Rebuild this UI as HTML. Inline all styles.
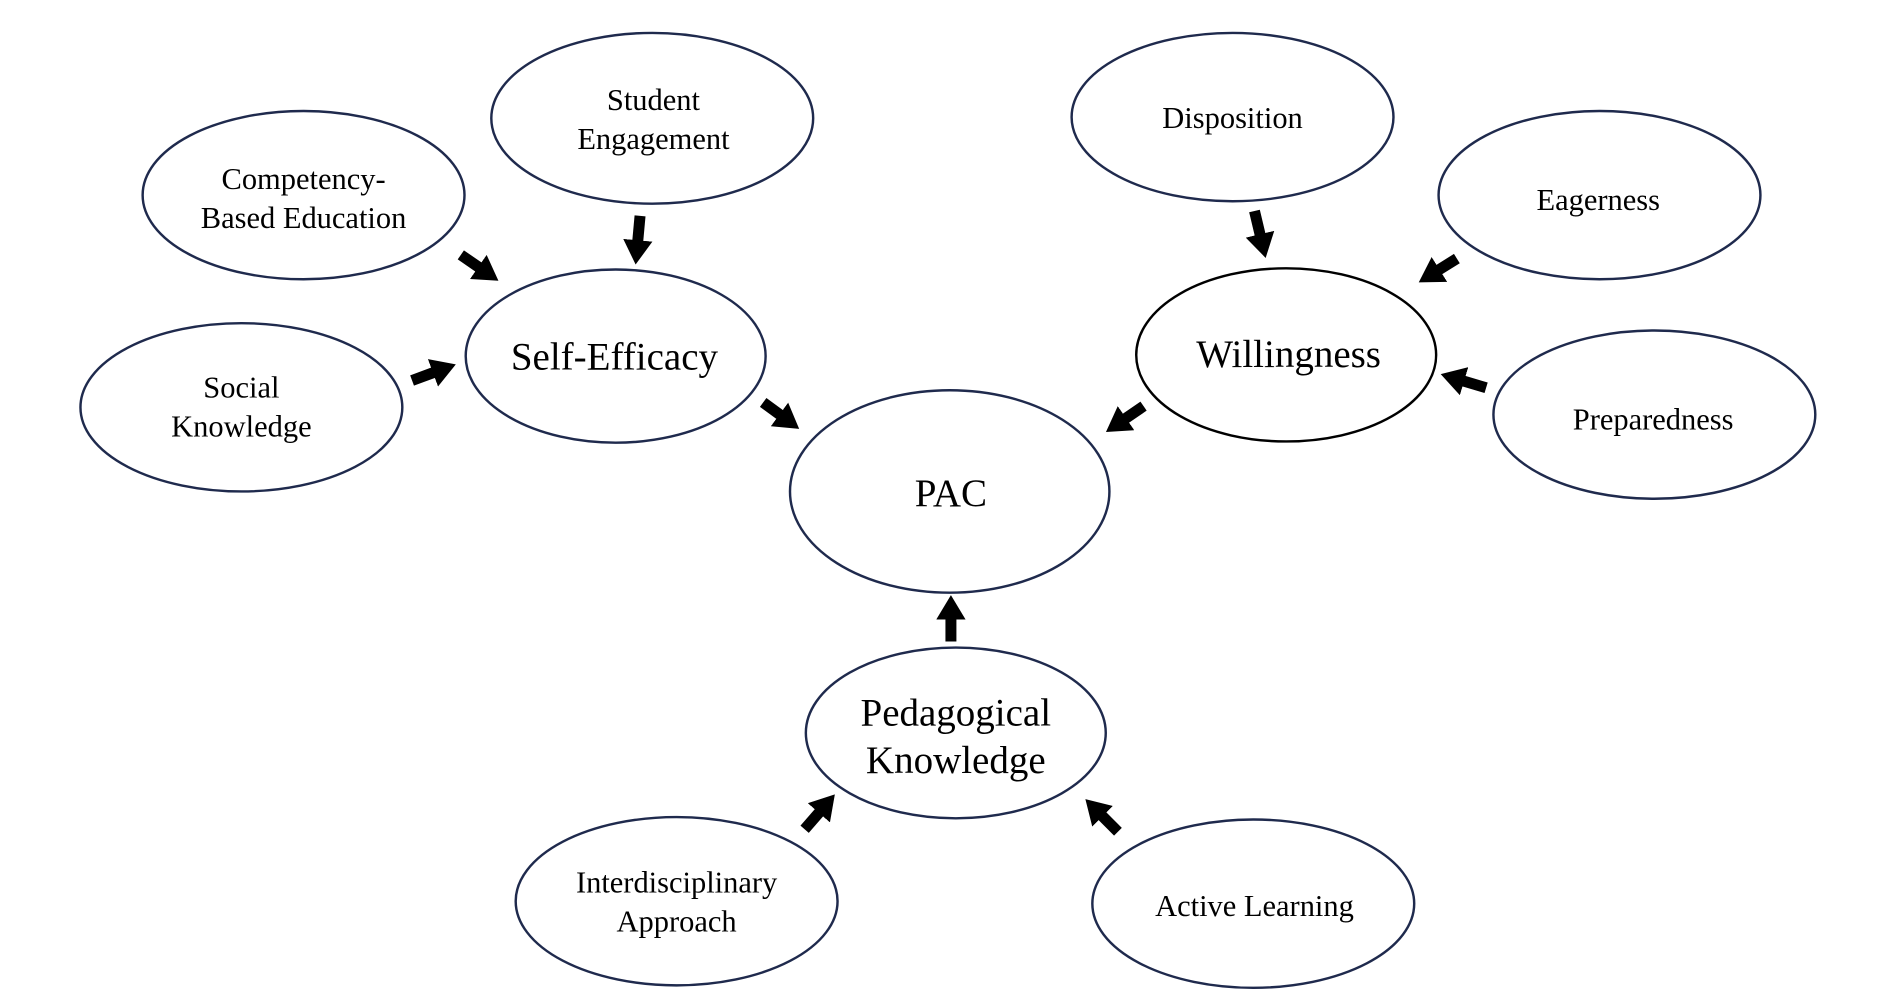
<!DOCTYPE html>
<html><head><meta charset="utf-8"><style>
html,body{margin:0;padding:0;background:#fff;}
svg{display:block;}
text{font-family:"Liberation Serif",serif;fill:#000;text-anchor:middle;}
.s{font-size:25px;}
.b{font-size:32px;}
ellipse{fill:#fff;stroke:#1f2a4d;stroke-width:2;}
line{stroke:#000;stroke-width:9;}
</style></head><body>
<svg width="1886" height="1000" viewBox="0 0 1547 820" preserveAspectRatio="none">
<defs>
<marker id="h" markerUnits="userSpaceOnUse" markerWidth="24" markerHeight="24" refX="2" refY="12" orient="auto">
<path d="M0,0 L20,12 L0,24 Z" fill="#000"/>
</marker>
</defs>
<ellipse cx="535" cy="97" rx="132" ry="70"/>
<text class="s" x="536" y="90">Student</text><text class="s" x="536" y="122">Engagement</text>
<ellipse cx="249" cy="160" rx="132" ry="69"/>
<text class="s" x="249" y="155">Competency-</text><text class="s" x="249" y="187">Based Education</text>
<ellipse cx="198" cy="334" rx="132" ry="69"/>
<text class="s" x="198" y="326">Social</text><text class="s" x="198" y="358">Knowledge</text>
<ellipse cx="505" cy="292" rx="123" ry="71"/>
<text class="b" x="504" y="303">Self-Efficacy</text>
<ellipse cx="779" cy="403" rx="131" ry="83"/>
<text class="b" x="780" y="415">PAC</text>
<ellipse cx="1011" cy="96" rx="132" ry="69"/>
<text class="s" x="1011" y="105">Disposition</text>
<ellipse cx="1312" cy="160" rx="132" ry="69"/>
<text class="s" x="1311" y="172">Eagerness</text>
<ellipse cx="1055" cy="291" rx="123" ry="71" style="stroke:#000"/>
<text class="b" x="1057" y="301">Willingness</text>
<ellipse cx="1357" cy="340" rx="132" ry="69"/>
<text class="s" x="1356" y="352">Preparedness</text>
<ellipse cx="784" cy="601" rx="123" ry="70"/>
<text class="b" x="784" y="595">Pedagogical</text><text class="b" x="784" y="634">Knowledge</text>
<ellipse cx="555" cy="739" rx="132" ry="69"/>
<text class="s" x="555" y="732">Interdisciplinary</text><text class="s" x="555" y="764">Approach</text>
<ellipse cx="1028" cy="741" rx="132" ry="69"/>
<text class="s" x="1029" y="751">Active Learning</text>

<g marker-end="url(#h)">
<line x1="378" y1="209" x2="394" y2="220"/>
<line x1="525" y1="177" x2="523" y2="199"/>
<line x1="338" y1="312" x2="357" y2="305"/>
<line x1="626" y1="330" x2="641" y2="341"/>
<line x1="1029" y1="173" x2="1034" y2="194"/>
<line x1="1195" y1="212" x2="1179" y2="222"/>
<line x1="1219" y1="318" x2="1199" y2="312"/>
<line x1="938" y1="333" x2="922" y2="344"/>
<line x1="780" y1="526" x2="780" y2="506"/>
<line x1="660" y1="680" x2="673" y2="665"/>
<line x1="917" y1="682" x2="903" y2="668"/>
</g>
</svg>
</body></html>
